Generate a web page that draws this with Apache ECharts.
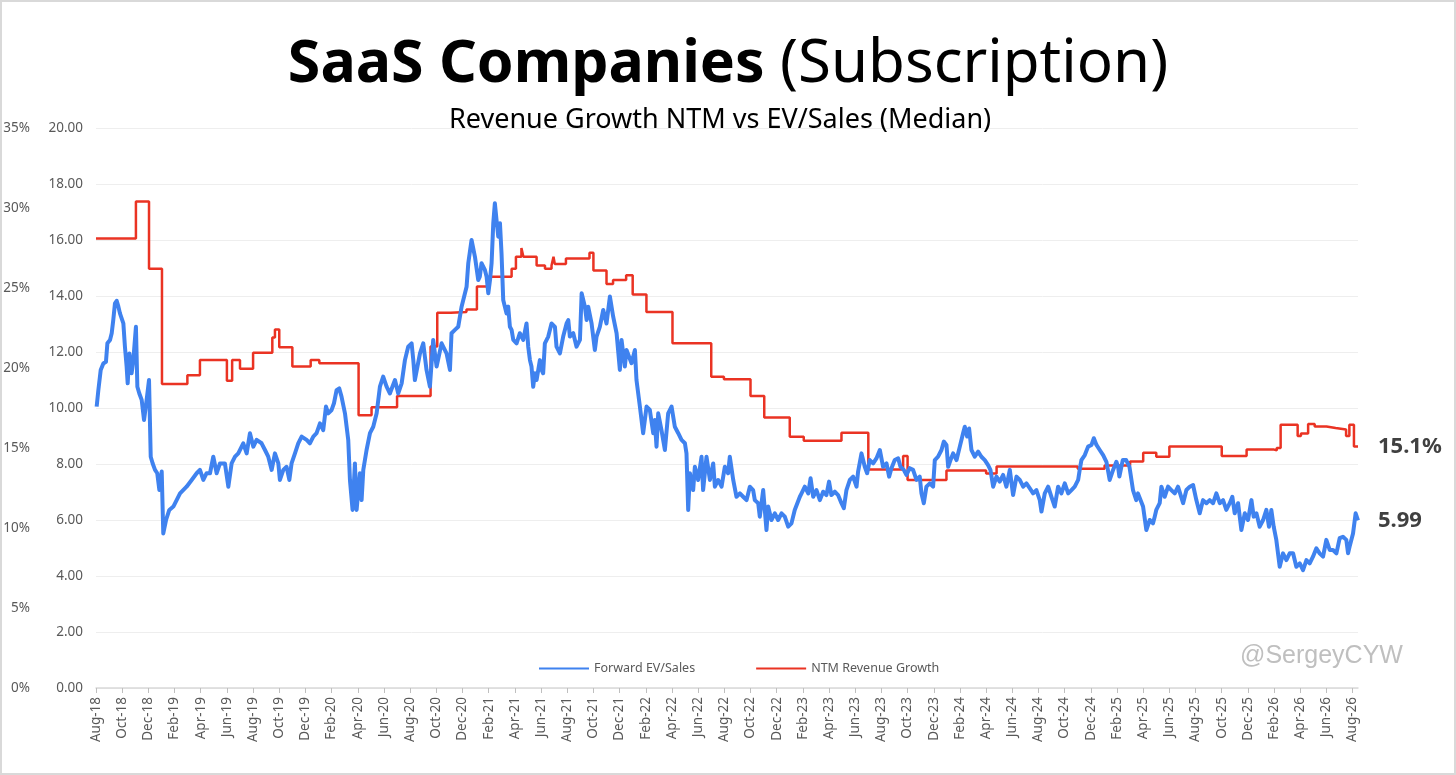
<!DOCTYPE html>
<html>
<head>
<meta charset="utf-8">
<script src="https://cdn.jsdelivr.net/npm/echarts@6/dist/echarts.min.js"></script>
<style>
html,body{margin:0;padding:0;background:#fff;}
#chart{position:absolute;left:0;top:0;width:1456px;height:775px;}
#frame{position:absolute;left:0;top:0;width:1456px;height:775px;box-sizing:border-box;border:2px solid #d9d9d9;pointer-events:none;}
</style>
</head>
<body>
<div id="chart"></div>
<div id="frame"></div>
<script>
// Tick labels: one every 2 months, starting Aug-18 (x = months since Aug-18)
const monthLabels = ['Aug-18','Oct-18','Dec-18','Feb-19','Apr-19','Jun-19','Aug-19','Oct-19','Dec-19','Feb-20','Apr-20','Jun-20','Aug-20','Oct-20','Dec-20','Feb-21','Apr-21','Jun-21','Aug-21','Oct-21','Dec-21','Feb-22','Apr-22','Jun-22','Aug-22','Oct-22','Dec-22','Feb-23','Apr-23','Jun-23','Aug-23','Oct-23','Dec-23','Feb-24','Apr-24','Jun-24','Aug-24','Oct-24','Dec-24','Feb-25','Apr-25','Jun-25','Aug-25','Oct-25','Dec-25','Feb-26','Apr-26','Jun-26','Aug-26'];

// Forward EV/Sales (median) : [months since Aug-18, multiple]
const evSales = [[0.05,10.05],[0.18,10.64],[0.36,11.36],[0.56,11.59],[0.76,11.65],[0.87,12.31],[1.07,12.43],[1.2,12.67],[1.32,13.14],[1.45,13.74],[1.58,13.83],[1.71,13.62],[1.83,13.38],[1.96,13.44],[2.09,13.02],[2.21,12.19],[2.34,11.48],[2.42,10.88],[2.55,11.95],[2.72,11.24],[2.85,11.71],[3.05,12.9],[3.16,10.76],[3.31,10.52],[3.49,10.29],[3.67,9.57],[3.87,10.29],[4.05,11.0],[4.18,8.26],[4.33,8.02],[4.51,7.79],[4.68,7.67],[4.84,7.07],[5.02,7.73],[5.14,5.52],[5.35,6.0],[5.6,6.36],[5.91,6.48],[6.16,6.71],[6.42,6.95],[6.92,7.19],[7.31,7.43],[7.69,7.67],[7.94,7.79],[8.2,7.43],[8.45,7.67],[8.71,7.67],[8.96,8.26],[9.22,7.67],[9.47,8.02],[9.85,8.02],[10.11,7.19],[10.36,8.02],[10.62,8.26],[10.87,8.38],[11.25,8.74],[11.51,8.38],[11.76,9.1],[12.02,8.62],[12.27,8.86],[12.65,8.74],[12.91,8.5],[13.16,8.26],[13.42,7.79],[13.67,8.38],[13.93,8.02],[14.05,7.43],[14.31,7.79],[14.56,7.9],[14.77,7.43],[14.94,8.02],[15.2,8.38],[15.45,8.74],[15.71,8.98],[16.09,8.86],[16.34,8.74],[16.6,8.98],[16.85,9.1],[17.11,9.45],[17.36,9.21],[17.57,10.05],[17.74,9.81],[18.0,9.93],[18.18,10.17],[18.38,10.64],[18.58,10.7],[18.76,10.4],[19.02,9.81],[19.27,8.86],[19.4,7.43],[19.6,6.36],[19.78,8.02],[19.91,6.36],[20.16,7.67],[20.29,6.71],[20.42,7.79],[20.67,8.5],[20.93,9.1],[21.18,9.33],[21.44,9.81],[21.69,10.76],[21.94,11.12],[22.2,10.76],[22.45,10.52],[22.84,11.0],[23.09,10.52],[23.35,10.88],[23.6,11.71],[23.85,12.19],[24.11,12.31],[24.24,11.71],[24.36,11.0],[24.75,11.95],[25.0,12.31],[25.25,11.36],[25.51,10.76],[25.76,12.43],[26.02,11.48],[26.4,12.31],[26.78,11.95],[27.04,11.36],[27.16,12.67],[27.42,12.79],[27.67,12.9],[27.93,13.62],[28.31,14.33],[28.44,15.17],[28.69,16.0],[28.95,15.4],[29.2,14.57],
[29.32,14.69],[29.45,15.17],[29.71,14.93],[29.84,14.69],[29.97,14.1],[30.1,14.57],[30.22,15.17],[30.35,16.6],[30.47,17.31],[30.6,16.71],[30.73,16.12],[30.86,16.6],[30.98,15.52],[31.11,13.86],[31.36,13.38],[31.49,13.62],[31.62,12.9],[31.75,12.79],[31.88,12.43],[32.13,12.31],[32.38,12.67],[32.64,12.43],[32.89,13.02],[33.02,12.19],[33.15,11.71],[33.27,11.48],[33.4,10.76],[33.53,11.24],[33.66,11.0],[33.91,11.71],[34.04,11.36],[34.16,11.24],[34.29,12.31],[34.55,12.55],[34.8,13.02],[35.06,12.9],[35.18,12.19],[35.44,11.95],[35.69,12.55],[35.95,13.02],[36.08,13.14],[36.2,12.55],[36.46,12.67],[36.71,12.19],[36.97,12.43],[37.1,14.1],[37.35,13.62],[37.48,13.14],[37.6,13.62],[37.86,13.02],[38.11,12.07],[38.24,12.55],[38.49,12.9],[38.75,13.5],[39.0,13.02],[39.26,13.98],[39.51,13.26],[39.77,12.67],[40.02,11.36],[40.15,12.43],[40.4,11.48],[40.53,12.07],[40.91,11.6],[41.17,12.07],[41.29,11.0],[41.55,10.05],[41.8,9.1],[42.06,10.05],[42.31,9.93],[42.57,9.1],[42.69,9.57],[42.82,8.62],[42.95,9.81],[43.2,9.21],[43.46,8.5],[43.71,9.81],[43.97,10.05],[44.22,9.33],[44.48,9.1],[44.73,8.86],[44.99,8.74],[45.11,8.38],[45.24,6.36],[45.37,7.67],[45.62,7.07],[45.75,7.9],[46.0,7.43],[46.26,8.26],[46.38,7.07],[46.64,8.26],[46.9,7.43],[47.15,8.02],[47.28,7.19],[47.53,7.43],[47.79,7.19],[48.04,7.9],[48.29,7.67],[48.42,8.26],[48.68,7.43],[48.93,6.83],[49.19,6.95],[49.44,6.83],[49.7,6.71],[49.95,7.19],[50.2,7.07],[50.33,6.71],[50.59,6.6],[50.71,6.12],[50.97,7.07],[51.22,5.64],[51.35,6.48],[51.6,6.0],[51.86,6.24],[52.11,6.0],[52.37,6.24],[52.62,6.12],[52.88,5.76],[53.13,5.88],[53.38,6.36],[53.77,6.83],
[53.9,6.95],[54.15,7.19],[54.41,6.95],[54.59,7.49],[54.79,6.83],[55.04,7.07],[55.3,6.71],[55.55,7.01],[55.8,6.89],[56.0,7.37],[56.18,6.89],[56.44,7.01],[56.69,6.89],[56.95,6.6],[57.13,6.42],[57.33,7.07],[57.59,7.43],[57.84,7.55],[58.1,7.19],[58.22,7.73],[58.48,8.38],[58.73,7.9],[58.91,7.67],[59.11,8.14],[59.37,8.02],[59.62,8.2],[59.88,8.5],[60.13,7.9],[60.39,8.02],[60.59,7.55],[60.77,7.85],[61.02,8.14],[61.28,8.2],[61.46,7.9],[61.71,7.79],[61.91,7.61],[62.17,7.85],[62.42,7.79],[62.68,7.43],[62.93,7.55],[63.06,6.95],[63.24,6.6],[63.44,7.19],[63.7,7.31],[63.95,7.19],[64.08,8.14],[64.33,8.26],[64.59,8.5],[64.77,8.8],[64.97,8.68],[65.1,7.9],[65.28,8.14],[65.48,8.38],[65.74,8.14],[65.99,8.62],[66.24,9.1],[66.37,9.33],[66.55,8.98],[66.7,9.27],[66.88,8.5],[67.13,8.26],[67.39,8.44],[67.64,8.26],[67.9,8.14],[68.15,7.96],[68.33,7.79],[68.54,7.19],[68.79,7.55],[69.04,7.37],[69.3,7.61],[69.55,7.19],[69.81,7.79],[70.06,6.89],[70.32,7.55],[70.57,7.43],[70.83,7.19],[71.08,7.31],[71.34,7.13],[71.59,6.95],[71.84,7.07],[72.1,6.71],[72.23,6.3],[72.48,6.95],[72.74,7.19],[72.99,6.83],[73.24,6.48],[73.5,7.19],[73.75,6.95],[74.01,7.31],[74.27,6.95],[74.52,7.07],[74.77,7.19],[75.03,7.43],[75.15,7.79],[75.28,8.14],[75.54,8.32],[75.79,8.62],[76.05,8.68],[76.23,8.92],[76.43,8.68],[76.68,8.5],[76.94,8.32],[77.19,8.08],[77.44,7.43],[77.7,7.79],[77.95,8.08],[78.08,7.9],[78.18,7.55],[78.44,8.14],[78.7,8.14],[78.95,7.9],[79.22,7.07],[79.47,6.71],[79.6,6.95],[79.73,7.01],[79.99,6.48],[80.24,5.64],[80.5,6.0],[80.75,5.88],[80.88,6.12],[81.0,6.36],[81.26,6.6],[81.39,7.19],[81.64,6.83],[81.9,7.19],[82.15,7.07],[82.41,6.95],[82.66,7.19],
[82.79,7.19],[83.05,6.6],[83.3,7.07],[83.56,7.19],[83.81,7.25],[84.06,6.71],[84.32,6.24],[84.57,6.71],[84.83,6.6],[85.08,6.71],[85.34,6.6],[85.59,6.95],[85.85,6.6],[86.1,6.71],[86.35,6.36],[86.61,6.6],[86.81,6.83],[86.99,6.24],[87.25,6.6],[87.5,5.64],[87.76,6.24],[88.01,6.0],[88.27,6.71],[88.44,6.12],[88.65,6.24],[88.9,5.76],[89.16,6.0],[89.41,6.36],[89.61,5.76],[89.79,6.36],[89.97,5.76],[90.17,5.29],[90.43,4.33],[90.68,4.81],[90.94,4.57],[91.19,4.81],[91.45,4.81],[91.7,4.33],[91.96,4.45],[92.21,4.21],[92.47,4.57],[92.72,4.45],[92.97,4.69],[93.23,4.99],[93.48,4.81],[93.74,4.69],[93.99,5.29],[94.25,4.93],[94.5,4.93],[94.76,4.81],[95.01,5.35],[95.26,5.4],[95.52,5.29],[95.65,4.81],[95.77,5.05],[96.03,5.52],[96.23,6.24],[96.41,5.99]];

// NTM revenue growth (median, %) : [month where the level starts, level]
const revGrowth = [[0,28.1],[3.05,30.4],[4.05,26.2],[5.04,19.0],[6.98,19.55],[7.94,20.5],[10.0,19.2],[10.4,20.5],[11.0,19.95],[12.0,20.95],[13.47,21.9],[13.67,22.4],[14.0,21.3],[15.0,20.1],[16.4,20.5],[17.06,20.3],[20.06,17.05],[21.05,17.55],[23.0,18.25],[25.56,21.35],[26.07,23.45],[27.1,23.5],[28.3,23.65],[29.1,25.1],[30.05,25.7],[31.75,26.2],[32.08,26.95],[32.5,27.5],[32.65,26.95],[33.66,26.4],[34.3,26.2],[34.8,26.4],[34.95,26.95],[35.05,26.5],[35.9,26.85],[37.7,27.2],[38.0,26.1],[39.0,25.25],[39.5,25.5],[40.5,25.8],[41.0,24.6],[42.05,23.5],[44.04,21.55],[47.0,19.45],[47.97,19.3],[50.0,18.25],[51.05,16.9],[53.0,15.7],[54.07,15.45],[56.95,15.95],[59.0,13.65],[61.66,14.5],[62.0,13.0],[64.97,13.6],[68.0,13.4],[68.8,13.85],[75.0,13.7],[77.05,13.9],[79.0,14.15],[80.0,14.7],[81.0,14.45],[82.0,15.1],[86.0,14.5],[87.9,14.9],[90.0,14.85],[90.2,15.0],[90.5,16.45],[91.8,15.75],[92.05,15.9],[92.6,16.5],[93.1,16.35],[94.0,16.25],[94.7,16.15],[95.5,15.75],[95.75,16.45],[96.1,15.1],[96.41,15.1]];

const FONT = 'Noto Sans';
const chart = echarts.init(document.getElementById('chart'), null, {renderer:'canvas'});
chart.setOption({
  animation:false,
  backgroundColor:'#ffffff',
  textStyle:{fontFamily:FONT},
  title:[{
    text:'{b|SaaS Companies} {r|(Subscription)}',
    left:'center', top:25,
    textStyle:{fontSize:59, lineHeight:70, color:'#000',
      rich:{
        b:{fontFamily:FONT, fontSize:59, fontWeight:'bold', color:'#000', lineHeight:70},
        r:{fontFamily:FONT, fontSize:60, fontWeight:'normal', color:'#000', lineHeight:70}
      }}
  },{
    text:'Revenue Growth NTM vs EV/Sales (Median)',
    left:444, top:100,
    textStyle:{fontFamily:FONT, fontSize:27, fontWeight:'normal', color:'#000', lineHeight:30}
  }],
  legend:{
    left:533, top:657, itemWidth:50, itemHeight:14, itemGap:60,
    data:['Forward EV/Sales','NTM Revenue Growth'],
    itemStyle:{opacity:0, borderWidth:0},
    textStyle:{fontFamily:FONT, fontSize:12.5, color:'#595959'}
  },
  grid:{left:96, right:98, top:128, bottom:87, containLabel:false},
  xAxis:{
    type:'value', min:0, max:96.41, interval:2,
    axisLine:{show:true, lineStyle:{color:'#d9d9d9', width:1.5}},
    axisTick:{show:true, inside:false, length:5, lineStyle:{color:'#bfbfbf'}},
    splitLine:{show:false},
    axisLabel:{rotate:90, margin:9, fontSize:13.5, color:'#595959', fontFamily:FONT,
      showMaxLabel:false,
      formatter:function(v){
        const i = Math.round(v/2);
        return (Math.abs(v - i*2) < 1e-6 && monthLabels[i]) ? monthLabels[i] : '';
      }}
  },
  yAxis:[{
    type:'value', min:0, max:20, interval:2, position:'left',
    axisLine:{show:false}, axisTick:{show:false},
    splitLine:{show:true, lineStyle:{color:'#eeeeee', width:1}},
    axisLabel:{margin:13, fontSize:13.5, color:'#595959', fontFamily:FONT,
      formatter:function(v){return v.toFixed(2);}}
  },{
    type:'value', min:0, max:35, interval:5, position:'left', offset:53,
    axisLine:{show:false}, axisTick:{show:false}, splitLine:{show:false},
    axisLabel:{margin:13, fontSize:13.5, color:'#595959', fontFamily:FONT,
      formatter:'{value}%'}
  }],
  graphic:[{
    type:'text', left:1240, top:644,
    style:{text:'@SergeyCYW', fill:'#bfbfbf', font:'25px "Liberation Sans", Arial, sans-serif'}
  }],
  series:[{
    name:'Forward EV/Sales', type:'line', yAxisIndex:0, data:evSales,
    showSymbol:false, symbol:'none', z:3,
    itemStyle:{color:'#3f82ef'},
    lineStyle:{color:'#3f82ef', width:4, join:'round'},
    endLabel:{show:true, distance:20, color:'#404040', fontSize:22, fontWeight:'bold', fontFamily:FONT,
      formatter:function(p){return p.value[1].toFixed(2);}}
  },{
    name:'NTM Revenue Growth', type:'line', yAxisIndex:1, data:revGrowth, step:'end',
    showSymbol:false, symbol:'none', z:2,
    itemStyle:{color:'#ea3323'},
    lineStyle:{color:'#ea3323', width:2.5},
    endLabel:{show:true, distance:20, color:'#404040', fontSize:22, fontWeight:'bold', fontFamily:FONT,
      formatter:function(p){return p.value[1].toFixed(1)+'%';}}
  }]
});
</script>
</body>
</html>
